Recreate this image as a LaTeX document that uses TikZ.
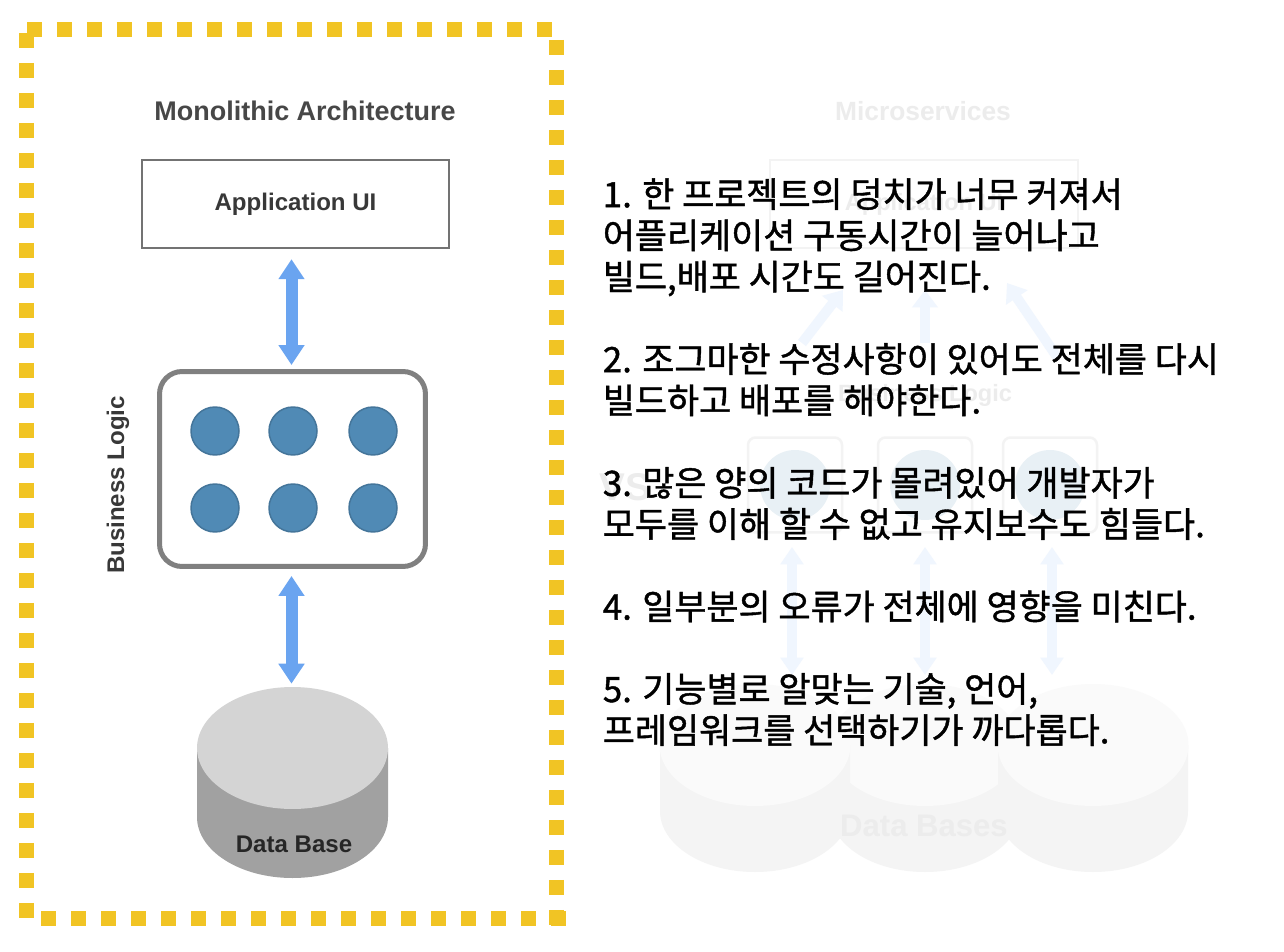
\documentclass[tikz,border=0pt]{standalone}
\usepackage{fontspec}
\setmainfont{Liberation Sans}
\newfontfamily\krfont[FakeBold=1.2]{Noto Sans CJK KR}
\usetikzlibrary{arrows.meta,positioning,shapes.geometric}
\definecolor{borderyellow}{RGB}{241,196,36}
\definecolor{arrowblue}{RGB}{106,164,240}
\definecolor{dotblue}{RGB}{80,138,181}
\definecolor{paleink}{RGB}{236,236,236}
\definecolor{paleline}{RGB}{243,243,243}
\definecolor{paleblue}{RGB}{240,246,254}
\definecolor{paledot}{RGB}{232,240,245}
\definecolor{paledisk}{RGB}{250,250,250}
\definecolor{paleside}{RGB}{244,244,244}
\tikzset{
  borderdash/.style={borderyellow,line width=0.3cm,dash pattern=on 0.3cm off 0.3cm},
  titletext/.style={font=\bfseries\fontsize{15.35pt}{17pt}\selectfont,text=black!72},
  labeltext/.style={font=\bfseries\fontsize{13.7pt}{15pt}\selectfont,text=black!78},
  paletitle/.style={font=\bfseries\fontsize{15pt}{17pt}\selectfont,text=paleink},
  palelabel/.style={font=\bfseries\fontsize{13.4pt}{15pt}\selectfont,text=paleink},
  bothway/.style={{Triangle[width=0.5cm,length=0.4cm]}-{Triangle[width=0.5cm,length=0.4cm]},arrowblue,line width=0.24cm},
  palebothway/.style={{Triangle[width=0.45cm,length=0.35cm]}-{Triangle[width=0.45cm,length=0.35cm]},paleblue,line width=0.2cm},
  paleup/.style={-{Triangle[width=0.5cm,length=0.35cm]},paleblue,line width=0.2cm},
  logicdot/.style={circle,draw=dotblue!85!black,line width=0.03cm,fill=dotblue,minimum size=0.96cm,inner sep=0pt},
  paledotnode/.style={circle,fill=paledot,minimum size=1.4cm,inner sep=0pt},
  paleservice/.style={draw=paleline,rounded corners=0.15cm,line width=0.05cm,minimum width=1.88cm,minimum height=1.9cm,inner sep=0pt},
  diskface/.style={ellipse,minimum width=3.82cm,minimum height=2.44cm,inner sep=0pt},
  noteslist/.style={anchor=north west,align=left,inner sep=0pt,font=\krfont\fontsize{19.85pt}{23.47pt}\selectfont,text=black}
}
\begin{document}
\begin{tikzpicture}[x=0.02cm,y=-0.02cm]
\useasboundingbox (0,0) rectangle (1284,952);
\fill[white] (0,0) rectangle (1284,952);

% faded right side
\node[paletitle] (microtitle) at (923,111) {Microservices};
\node[draw=paleline,line width=0.05cm,minimum width=6.16cm,minimum height=1.76cm] (paleui) at (924,204) {};
\node[palelabel] (paleuitext) at (paleui) {Application UI};
\node[palelabel] (palelogic) at (925,395) {Business Logic};
\node[font=\bfseries\fontsize{22pt}{24pt}\selectfont,text=paleink] (paleversus) at (625,487) {VS};
\foreach \name/\xpos in {a/795,b/925,c/1050} {
  \node[paleservice] (svc\name) at (\xpos,485) {};
  \node[paledotnode] (paledot\name) at (\xpos,485) {};
}
\coordinate (uptaila) at (802,343);
\coordinate (uptipa) at (843,290);
\coordinate (uptailb) at (925,343);
\coordinate (uptipb) at (925,290);
\coordinate (uptailc) at (1057,357);
\coordinate (uptipc) at (1007,283);
\foreach \name in {a,b,c}
  \draw[paleup] (uptail\name) -- (uptip\name);
\foreach \name/\xpos in {b/925,a/755,c/1093} {
  \path[fill=paleside] (\xpos-95,745) -- (\xpos-95,811) arc[start angle=180,end angle=360,x radius=95,y radius=-61] -- (\xpos+95,745) -- cycle;
  \node[diskface,fill=paledisk] (disk\name) at (\xpos,745) {};
}
\node[paletitle,font=\bfseries\fontsize{17.7pt}{19pt}\selectfont] (paledb) at (924,826) {Data Bases};
\foreach \name/\xpos in {a/792,b/925,c/1052} {
  \coordinate (ptop\name) at (\xpos,547);
  \coordinate (pbot\name) at (\xpos,675);
  \draw[palebothway] (ptop\name) -- (pbot\name);
}

% yellow frame
\draw[borderdash] (27,29.5) -- (560,29.5);
\draw[borderdash] (26.5,33) -- (26.5,925);
\draw[borderdash] (556.5,40) -- (556.5,925);
\draw[borderdash] (41,918.5) -- (566,918.5);

% monolith
\node[titletext] (monotitle) at (305,111) {Monolithic Architecture};
\node[draw=black!55,line width=0.05cm,minimum width=6.14cm,minimum height=1.76cm,labeltext] (appui) at (295.5,204) {Application UI};
\node[draw=black!50,line width=0.1cm,rounded corners=0.45cm,minimum width=5.32cm,minimum height=3.9cm] (logicbox) at (292.5,469) {};
\node[labeltext,rotate=90] (logiclabel) at (118,485) {Business Logic};
\foreach \col/\xpos in {1/215,2/293,3/373}
  \foreach \row/\ypos in {1/431,2/508}
    \node[logicdot] (dot\row\col) at (\xpos,\ypos) {};

\path[fill=black!37] (197,748) -- (197,817) arc[start angle=180,end angle=360,x radius=95.5,y radius=-61] -- (388,748) -- cycle;
\node[diskface,fill=black!17] (dbtop) at (292.5,748) {};
\node[labeltext,text=black!85] (dblabel) at (294,844) {Data Base};

\draw[bothway,shorten >=0.08cm] (logicbox.north |- appui.south) ++(-1,10) coordinate (arrowtop) -- (arrowtop |- logicbox.north);
\draw[bothway,shorten >=0.06cm] (logicbox.south) ++(-1,7) coordinate (arrowlow) -- (arrowlow |- dbtop.north);

% text on top
\node[noteslist] (notes) at (602.5,178) {1. 한 프로젝트의 덩치가 너무 커져서\\
어플리케이션 구동시간이 늘어나고\\
빌드,배포 시간도 길어진다.\\[23.47pt]
2. 조그마한 수정사항이 있어도 전체를 다시\\
빌드하고 배포를 해야한다.\\[23.47pt]
3. 많은 양의 코드가 몰려있어 개발자가\\
모두를 이해 할 수 없고 유지보수도 힘들다.\\[23.47pt]
4. 일부분의 오류가 전체에 영향을 미친다.\\[23.47pt]
5. 기능별로 알맞는 기술, 언어,\\
프레임워크를 선택하기가 까다롭다.};
\end{tikzpicture}
\end{document}
